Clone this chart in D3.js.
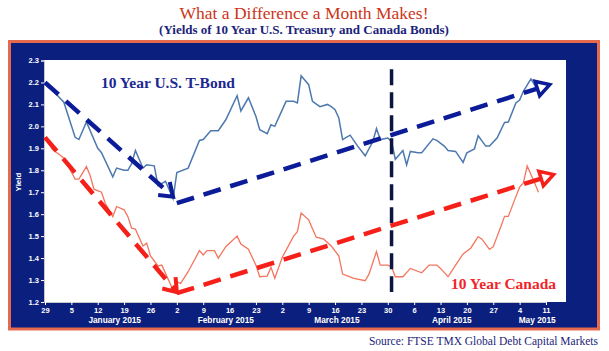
<!DOCTYPE html>
<html>
<head>
<meta charset="utf-8">
<script src="https://cdn.jsdelivr.net/npm/d3@7/dist/d3.min.js"></script>
<style>
  body { margin: 0; background: #fff; }
  svg { display: block; }
</style>
</head>
<body>
<div id="chart"></div>
<script>
// 10 Year U.S. Treasury yields
const usDates = [
  "2014-12-29", "2015-01-03", "2015-01-06", "2015-01-07", "2015-01-09", "2015-01-12", "2015-01-13", "2015-01-16", "2015-01-17", "2015-01-19",
  "2015-01-20", "2015-01-21", "2015-01-22", "2015-01-24", "2015-01-25", "2015-01-27", "2015-01-28", "2015-01-30", "2015-02-01", "2015-02-02",
  "2015-02-05", "2015-02-08", "2015-02-09", "2015-02-11", "2015-02-13", "2015-02-15", "2015-02-18", "2015-02-19", "2015-02-21", "2015-02-23",
  "2015-02-24", "2015-02-26", "2015-02-27", "2015-02-28", "2015-03-02", "2015-03-03", "2015-03-05", "2015-03-06", "2015-03-07", "2015-03-09",
  "2015-03-10", "2015-03-12", "2015-03-14", "2015-03-15", "2015-03-16", "2015-03-17", "2015-03-18", "2015-03-20", "2015-03-22", "2015-03-24",
  "2015-03-26", "2015-03-27", "2015-03-28", "2015-03-30", "2015-03-31", "2015-04-01", "2015-04-03", "2015-04-04", "2015-04-05", "2015-04-07",
  "2015-04-08", "2015-04-11", "2015-04-12", "2015-04-14", "2015-04-15", "2015-04-17", "2015-04-19", "2015-04-20", "2015-04-22", "2015-04-23",
  "2015-04-25", "2015-04-26", "2015-04-28", "2015-04-30", "2015-05-01", "2015-05-03", "2015-05-04", "2015-05-05", "2015-05-07", "2015-05-09"
];
const usYields = [
  2.20, 2.11, 1.95, 1.94, 2.02, 1.90, 1.88, 1.77, 1.81, 1.80,
  1.80, 1.83, 1.89, 1.81, 1.825, 1.82, 1.73, 1.75, 1.67, 1.79,
  1.81, 1.936, 1.94, 1.98, 1.98, 2.03, 2.14, 2.07, 2.13, 2.045,
  1.985, 1.967, 2.007, 2.00, 2.076, 2.114, 2.114, 2.107, 2.23, 2.19,
  2.114, 2.09, 2.10, 2.09, 2.076, 2.038, 1.94, 1.96, 1.91, 1.866,
  1.93, 1.99, 1.94, 1.947, 1.93, 1.85, 1.89, 1.825, 1.886, 1.88,
  1.88, 1.943, 1.936, 1.91, 1.89, 1.886, 1.836, 1.88, 1.897, 1.957,
  1.91, 1.91, 1.947, 2.018, 2.02, 2.107, 2.12, 2.16, 2.216, 2.16
];

// 10 Year Canada yields
const caDates = [
  "2014-12-29", "2014-12-31", "2015-01-03", "2015-01-06", "2015-01-07", "2015-01-09", "2015-01-10", "2015-01-11", "2015-01-13", "2015-01-14",
  "2015-01-16", "2015-01-17", "2015-01-19", "2015-01-20", "2015-01-21", "2015-01-22", "2015-01-24", "2015-01-25", "2015-01-26", "2015-01-28",
  "2015-01-29", "2015-01-31", "2015-02-01", "2015-02-02", "2015-02-03", "2015-02-05", "2015-02-08", "2015-02-09", "2015-02-10", "2015-02-12",
  "2015-02-13", "2015-02-15", "2015-02-18", "2015-02-19", "2015-02-21", "2015-02-23", "2015-02-24", "2015-02-26", "2015-02-27", "2015-02-28",
  "2015-03-02", "2015-03-05", "2015-03-06", "2015-03-07", "2015-03-09", "2015-03-11", "2015-03-13", "2015-03-15", "2015-03-17", "2015-03-18",
  "2015-03-21", "2015-03-24", "2015-03-25", "2015-03-27", "2015-03-28", "2015-03-30", "2015-03-31", "2015-04-01", "2015-04-03", "2015-04-05",
  "2015-04-08", "2015-04-10", "2015-04-12", "2015-04-13", "2015-04-15", "2015-04-17", "2015-04-19", "2015-04-21", "2015-04-23", "2015-04-24",
  "2015-04-26", "2015-04-27", "2015-04-29", "2015-04-30", "2015-05-01", "2015-05-03", "2015-05-04", "2015-05-05", "2015-05-06", "2015-05-08",
  "2015-05-09"
];
const caYields = [
  1.95, 1.894, 1.856, 1.76, 1.76, 1.817, 1.775, 1.714, 1.70, 1.65,
  1.589, 1.635, 1.62, 1.589, 1.536, 1.532, 1.455, 1.468, 1.41, 1.364,
  1.368, 1.292, 1.254, 1.292, 1.285, 1.338, 1.434, 1.414, 1.434, 1.434,
  1.40, 1.452, 1.50, 1.464, 1.44, 1.368, 1.315, 1.318, 1.358, 1.308,
  1.404, 1.50, 1.52, 1.605, 1.574, 1.495, 1.486, 1.455, 1.41, 1.327,
  1.308, 1.297, 1.327, 1.43, 1.368, 1.368, 1.36, 1.315, 1.315, 1.353,
  1.333, 1.368, 1.368, 1.353, 1.315, 1.368, 1.419, 1.445, 1.498, 1.486,
  1.44, 1.452, 1.543, 1.59, 1.59, 1.68, 1.723, 1.742, 1.82, 1.742,
  1.70
];

// annotation arrows: [fromDate, fromYield, toDate, toYield]
const usArrows = [["2014-12-29", 2.20, "2015-02-01", 1.68], ["2015-02-02", 1.65, "2015-05-12", 2.19]];
const caArrows = [["2014-12-29", 1.95, "2015-02-02", 1.245], ["2015-02-02", 1.24, "2015-05-13", 1.78]];
const markerDate = "2015-03-31";
const markerYields = [2.26, 1.245];

const yTicks = [1.2, 1.3, 1.4, 1.5, 1.6, 1.7, 1.8, 1.9, 2.0, 2.1, 2.2, 2.3];
const months = ["2015-01-01", "2015-02-01", "2015-03-01", "2015-04-01", "2015-05-01", "2015-06-01"];
const monthNames = ["January 2015", "February 2015", "March 2015", "April 2015", "May 2015"];

const parse = d3.timeParse("%Y-%m-%d");
const W = 609, H = 351;
const plot = {left: 44, right: 566, top: 60, bottom: 302};

const svg = d3.select("#chart").append("svg")
  .attr("width", W).attr("height", H);

// titles
svg.append("text")
  .attr("x", 304).attr("y", 19)
  .attr("text-anchor", "middle")
  .attr("font-family", "Liberation Serif, serif")
  .attr("font-size", 17.5)
  .attr("fill", "#cc3518")
  .text("What a Difference a Month Makes!");
svg.append("text")
  .attr("x", 304).attr("y", 34)
  .attr("text-anchor", "middle")
  .attr("font-family", "Liberation Serif, serif")
  .attr("font-weight", "bold")
  .attr("font-size", 13)
  .attr("fill", "#1b237a")
  .text("(Yields of 10 Year U.S. Treasury and Canada Bonds)");

// frame
svg.append("rect")
  .attr("x", 9.5).attr("y", 41.5).attr("width", 589).attr("height", 287.5)
  .attr("fill", "#0b1f7e").attr("stroke", "#e66a4e").attr("stroke-width", 3);
svg.append("rect")
  .attr("x", plot.left).attr("y", plot.top)
  .attr("width", plot.right - plot.left).attr("height", plot.bottom - plot.top)
  .attr("fill", "#fff");

svg.append("text")
  .attr("x", 598).attr("y", 345)
  .attr("text-anchor", "end")
  .attr("font-family", "Liberation Serif, serif")
  .attr("font-size", 11.5)
  .attr("fill", "#1b237a")
  .text("Source: FTSE TMX Global Debt Capital Markets");

// scales
const x = d3.scaleTime()
  .domain([parse("2014-12-29"), parse("2015-05-11")])
  .range([45, 546]);
const y = d3.scaleLinear()
  .domain([1.2, 2.3])
  .range([plot.bottom, 60.5]);

// axes
const xAxis = svg.append("g")
  .attr("transform", `translate(0,${plot.bottom})`)
  .call(d3.axisBottom(x)
    .tickValues(d3.timeMonday.range(parse("2014-12-29"), parse("2015-05-12")))
    .tickFormat(d3.timeFormat("%-d"))
    .tickSize(3).tickPadding(2.5));
const yAxis = svg.append("g")
  .attr("transform", `translate(${plot.left},0)`)
  .call(d3.axisLeft(y)
    .tickValues(yTicks)
    .tickFormat(d3.format(".1f"))
    .tickSize(3).tickPadding(2));
[xAxis, yAxis].forEach(g => {
  g.select(".domain").attr("stroke", "#c8c8c8");
  g.selectAll(".tick line").attr("stroke", "#fff");
  g.selectAll(".tick text")
    .attr("fill", "#fff")
    .attr("font-family", "Liberation Sans, Arial, sans-serif")
    .attr("font-weight", "bold")
    .attr("font-size", 7.5);
});

// month labels centred on the visible part of each month
const xEnd = x.invert(plot.right);
svg.append("g").selectAll("text")
  .data(monthNames)
  .join("text")
  .attr("x", (d, i) => {
    const a = d3.max([parse(months[i]), x.domain()[0]]);
    const b = d3.min([parse(months[i + 1]), xEnd]);
    return (x(a) + x(b)) / 2;
  })
  .attr("y", 323)
  .attr("text-anchor", "middle")
  .attr("font-family", "Liberation Sans, Arial, sans-serif")
  .attr("font-weight", "bold")
  .attr("font-size", 8.3)
  .attr("fill", "#fff")
  .text(d => d);

svg.append("text")
  .attr("transform", `translate(21,182) rotate(-90)`)
  .attr("text-anchor", "middle")
  .attr("font-family", "Liberation Sans, Arial, sans-serif")
  .attr("font-weight", "bold")
  .attr("font-size", 8)
  .attr("fill", "#fff")
  .text("Yield");

// series lines
const line = d3.line()
  .x(d => x(d[0]))
  .y(d => y(d[1]));
svg.append("path")
  .datum(caDates.map((d, i) => [parse(d), caYields[i]]))
  .attr("fill", "none")
  .attr("stroke", "#f4765f")
  .attr("stroke-width", 1.3)
  .attr("d", line);
svg.append("path")
  .datum(usDates.map((d, i) => [parse(d), usYields[i]]))
  .attr("fill", "none")
  .attr("stroke", "#4d79ae")
  .attr("stroke-width", 1.5)
  .attr("d", line);

// month-end marker
svg.append("line")
  .attr("x1", x(parse(markerDate))).attr("x2", x(parse(markerDate)))
  .attr("y1", y(markerYields[0])).attr("y2", y(markerYields[1]))
  .attr("stroke", "#0d1642")
  .attr("stroke-width", 3.5)
  .attr("stroke-dasharray", "16,7");

// dashed arrows
function drawArrow(a, color, head) {
  const x1 = x(parse(a[0])), y1 = y(a[1]);
  const x2 = x(parse(a[2])), y2 = y(a[3]);
  const ang = Math.atan2(y2 - y1, x2 - x1);
  const g = svg.append("g")
    .attr("fill", "none")
    .attr("stroke", color)
    .attr("stroke-width", 4.5);
  const back = head === "triangle" ? 13 : 3;
  g.append("line")
    .attr("x1", x1).attr("y1", y1)
    .attr("x2", x2 - back * Math.cos(ang)).attr("y2", y2 - back * Math.sin(ang))
    .attr("stroke-dasharray", "18,10");
  if (head === "triangle") {
    const bx = x2 - 13 * Math.cos(ang), by = y2 - 13 * Math.sin(ang);
    const nx = -Math.sin(ang) * 7.5, ny = Math.cos(ang) * 7.5;
    g.append("path")
      .attr("stroke-width", 3.5)
      .attr("stroke-linejoin", "miter")
      .attr("d", `M${x2},${y2}L${bx + nx},${by + ny}L${bx - nx},${by - ny}Z`);
  } else {
    const L = 15, spread = 0.62;
    g.append("path")
      .attr("stroke-width", 4)
      .attr("d", `M${x2 - L * Math.cos(ang - spread)},${y2 - L * Math.sin(ang - spread)}` +
        `L${x2},${y2}L${x2 - L * Math.cos(ang + spread)},${y2 - L * Math.sin(ang + spread)}`);
  }
}
drawArrow(usArrows[0], "#0c1c98", "chevron");
drawArrow(usArrows[1], "#0c1c98", "triangle");
drawArrow(caArrows[0], "#f5201a", "chevron");
drawArrow(caArrows[1], "#f5201a", "triangle");

// series labels
svg.append("text")
  .attr("x", 101).attr("y", 88)
  .attr("font-family", "Liberation Serif, serif")
  .attr("font-weight", "bold")
  .attr("font-size", 15.5)
  .attr("fill", "#1c2891")
  .text("10 Year U.S. T-Bond");
svg.append("text")
  .attr("x", 451).attr("y", 289)
  .attr("font-family", "Liberation Serif, serif")
  .attr("font-weight", "bold")
  .attr("font-size", 15.5)
  .attr("fill", "#f0262a")
  .text("10 Year Canada");
</script>
</body>
</html>
